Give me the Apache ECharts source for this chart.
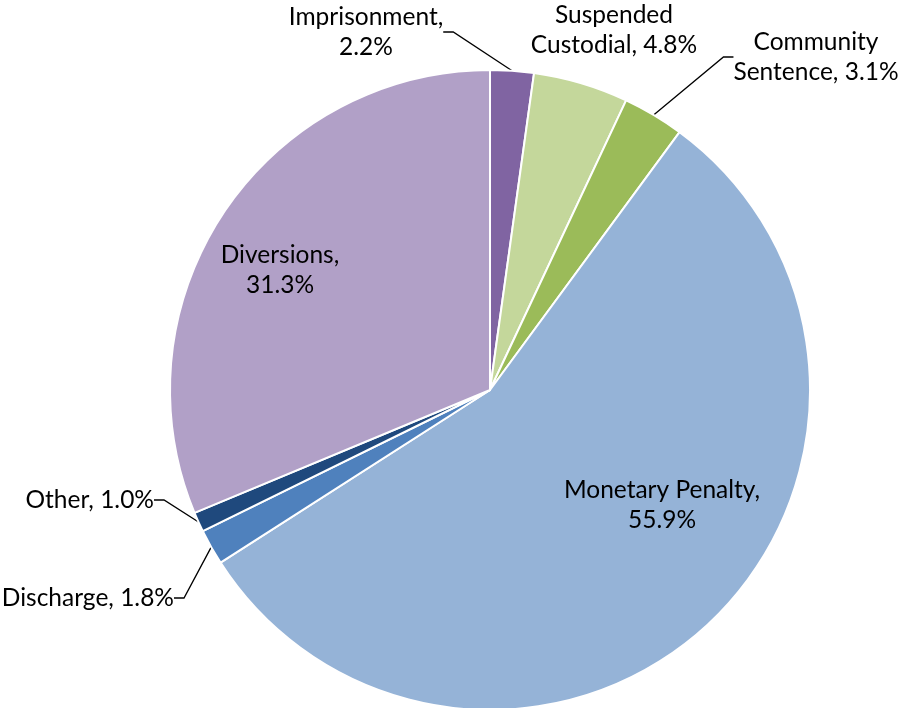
<!DOCTYPE html>
<html><head><meta charset="utf-8">
<script src="https://cdn.jsdelivr.net/npm/echarts@6/dist/echarts.min.js"></script>
<style>html,body{margin:0;padding:0;background:#fff}#c{width:898px;height:708px}</style>
</head><body><div id="c"></div>
<script>
const categories = ['Imprisonment', 'Suspended Custodial', 'Community Sentence', 'Monetary Penalty', 'Discharge', 'Other', 'Diversions'];
const labelTexts = ['Imprisonment,\n2.2%', 'Suspended\nCustodial, 4.8%', 'Community\nSentence, 3.1%', 'Monetary Penalty,\n55.9%', 'Discharge, 1.8%', 'Other, 1.0%', 'Diversions,\n31.3%'];
const values = [2.2, 4.8, 3.1, 55.9, 1.8, 1.0, 31.3];
const colors = ['#8064A2', '#C4D79B', '#9BBB59', '#95B3D7', '#4F81BD', '#1F497D', '#B1A0C7'];
// label placement (layout only)
const labelPos = [
  {x: 366, y: 32, align: 'center'},
  {x: 614, y: 30, align: 'center'},
  {x: 816, y: 57, align: 'center'},
  {x: 662, y: 505, align: 'center'},
  {x: 174, y: 598, align: 'right'},
  {x: 154, y: 500, align: 'right'},
  {x: 280, y: 270, align: 'center'}
];
const showLine = [true, false, true, false, true, true, false];

const chart = echarts.init(document.getElementById('c'));
chart.setOption({
  animation: false,
  series: [{
    type: 'pie',
    center: [490, 390],
    radius: 320,
    startAngle: 90,
    clockwise: true,
    itemStyle: {borderColor: '#fff', borderWidth: 2},
    label: {
      show: true,
      position: 'outside',
      fontFamily: 'Lato',
      fontSize: 24.5,
      lineHeight: 30,
      color: '#000',
      overflow: 'none',
      formatter: p => labelTexts[p.dataIndex]
    },
    labelLine: {show: true, length: 10, length2: 10, lineStyle: {color: '#000', width: 1.3}},
    labelLayout: function (params) {
      const p = labelPos[params.dataIndex];
      return {x: p.x, y: p.y, align: p.align, verticalAlign: 'middle'};
    },
    data: categories.map((c, i) => ({
      name: c,
      value: values[i],
      itemStyle: {color: colors[i]},
      label: {align: labelPos[i].align},
      labelLine: {show: showLine[i]}
    }))
  }]
});
</script></body></html>
